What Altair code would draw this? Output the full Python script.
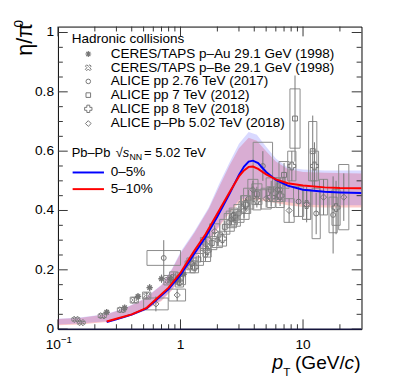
import altair as alt
import pandas as pd

FONT = "Liberation Sans"
GRAY = "#767676"
BOXGRAY = "#8a8a8a"

# ---------------- data ----------------
# CERES/TAPS p-Au 29.1 GeV (1998)
au_x = [0.25, 0.35, 0.45, 0.56, 0.70, 0.83, 0.95, 1.06]
au_y = [0.057, 0.072, 0.110, 0.140, 0.170, 0.168, 0.165, 0.185]
au_stat = [0.008, 0.008, 0.010, 0.012, 0.014, 0.015, 0.016, 0.018]

# CERES/TAPS p-Be 29.1 GeV (1998)
be_x = [0.14, 0.155, 0.23, 0.33, 0.42, 0.53, 0.79, 0.88]
be_y = [0.033, 0.022, 0.045, 0.065, 0.098, 0.113, 0.165, 0.175]
be_stat = [0.006, 0.005, 0.008, 0.008, 0.010, 0.012, 0.014, 0.016]
be_sys = [0.005, 0.004, 0.006, 0.007, 0.010, 0.012, 0.016, 0.018]
be_bw = [1.08, 1.08, 1.08, 1.08, 1.08, 1.08, 1.08, 1.08]

# ALICE pp 2.76 TeV (2017)
p276_x = [0.73, 1.2, 1.6, 2.0, 2.5, 3.0, 3.6, 4.7, 6.5, 9.2, 12.8, 17.6]
p276_y = [0.24, 0.21, 0.25, 0.30, 0.36, 0.39, 0.44, 0.55, 0.47, 0.43, 0.39, 0.385]
p276_stat = [0.06, 0.02, 0.02, 0.02, 0.02, 0.025, 0.03, 0.05, 0.04, 0.05, 0.07, 0.13]
p276_sys = [0.025, 0.02, 0.022, 0.025, 0.03, 0.03, 0.035, 0.08, 0.04, 0.05, 0.085, 0.06]
p276_bw = [1.37, 1.1, 1.1, 1.1, 1.1, 1.1, 1.1, 1.2, 1.1, 1.1, 1.08, 1.08]

# ALICE pp 7 TeV (2012)
p7_x = [1.0, 1.4, 1.8, 2.3, 2.8, 3.4, 4.2, 5.5, 7.0, 8.6, 12.0]
p7_y = [0.17, 0.235, 0.29, 0.345, 0.375, 0.42, 0.455, 0.47, 0.52, 0.71, 0.60]
p7_stat = [0.015, 0.015, 0.015, 0.02, 0.02, 0.02, 0.025, 0.03, 0.04, 0.145, 0.12]
p7_sys = [0.02, 0.02, 0.022, 0.025, 0.028, 0.03, 0.035, 0.04, 0.045, 0.10, 0.10]
p7_bw = [1.1, 1.1, 1.1, 1.1, 1.1, 1.1, 1.1, 1.1, 1.1, 1.1, 1.08]

# ALICE pp 8 TeV (2018)
p8_x = [0.98, 1.3, 1.65, 2.2, 2.7, 3.4, 4.2, 5.5, 6.5, 8.1, 10.7, 12.4, 18.6]
p8_y = [0.16, 0.21, 0.265, 0.305, 0.38, 0.42, 0.435, 0.445, 0.45, 0.55, 0.42, 0.55, 0.41]
p8_stat = [0.015, 0.015, 0.017, 0.02, 0.02, 0.022, 0.025, 0.03, 0.035, 0.05, 0.06, 0.08, 0.09]
p8_sys = [0.018, 0.02, 0.022, 0.025, 0.028, 0.03, 0.033, 0.035, 0.04, 0.05, 0.05, 0.05, 0.06]
p8_bw = [1.08, 1.08, 1.08, 1.08, 1.08, 1.08, 1.08, 1.08, 1.08, 1.08, 1.08, 1.08, 1.08]

# ALICE p-Pb 5.02 TeV (2018)
ppb_x = [0.63, 0.94, 1.24, 1.6, 1.9, 2.6, 3.3, 3.9, 5.0, 6.2, 7.7, 10.7, 14.7, 21.5]
ppb_y = [0.085, 0.115, 0.22, 0.287, 0.33, 0.37, 0.40, 0.47, 0.44, 0.47, 0.40, 0.42, 0.445, 0.445]
ppb_stat = [0.025, 0.02, 0.02, 0.02, 0.02, 0.02, 0.025, 0.03, 0.03, 0.035, 0.04, 0.05, 0.06, 0.08]
ppb_sys = [0.02, 0.02, 0.02, 0.022, 0.025, 0.028, 0.03, 0.035, 0.035, 0.04, 0.04, 0.05, 0.06, 0.11]
ppb_bw = [1.26, 1.17, 1.1, 1.1, 1.1, 1.1, 1.1, 1.1, 1.1, 1.1, 1.1, 1.08, 1.08, 1.1]

# Pb-Pb model curves
curve_x = [0.25, 0.3, 0.4, 0.53, 0.8, 1.0, 1.3, 1.6, 2.0, 2.5, 3.0, 3.3, 3.6, 3.9,
           4.3, 5.0, 6.0, 7.5, 10, 15, 20, 30]
red_y = [0.026, 0.035, 0.05, 0.072, 0.14, 0.19, 0.265, 0.32, 0.39, 0.46, 0.515, 0.535,
         0.547, 0.548, 0.54, 0.522, 0.505, 0.492, 0.484, 0.478, 0.476, 0.475]
blue_y = [0.024, 0.033, 0.049, 0.070, 0.135, 0.183, 0.255, 0.31, 0.38, 0.455, 0.52, 0.548,
          0.565, 0.568, 0.56, 0.53, 0.503, 0.484, 0.47, 0.463, 0.461, 0.459]

# uncertainty bands
band_x = [0.1, 0.15, 0.25, 0.35, 0.5, 0.7, 0.85, 1.0, 1.3, 1.7, 2.07, 2.5, 3.0, 3.6,
          4.2, 5.0, 6.0, 7.5, 10, 15, 30]
red_lo = [0.013, 0.016, 0.024, 0.038, 0.06, 0.095, 0.13, 0.17, 0.235, 0.295, 0.345, 0.39,
          0.425, 0.435, 0.435, 0.43, 0.425, 0.418, 0.412, 0.41, 0.41]
red_hi = [0.034, 0.038, 0.05, 0.07, 0.10, 0.148, 0.20, 0.255, 0.325, 0.405, 0.48, 0.55,
          0.61, 0.645, 0.635, 0.60, 0.565, 0.54, 0.53, 0.527, 0.525]
blue_lo = [0.016, 0.019, 0.027, 0.041, 0.063, 0.098, 0.133, 0.175, 0.24, 0.30, 0.35, 0.395,
           0.435, 0.445, 0.445, 0.44, 0.435, 0.428, 0.42, 0.418, 0.418]
blue_hi = [0.035, 0.039, 0.051, 0.071, 0.101, 0.15, 0.203, 0.26, 0.33, 0.41, 0.49, 0.56,
           0.625, 0.665, 0.655, 0.615, 0.575, 0.545, 0.538, 0.535, 0.535]

# axis ticks and tick labels
y_major = [0, 0.2, 0.4, 0.6, 0.8, 1.0]
y_labels = ["0", "0.2", "0.4", "0.6", "0.8", "1"]
y_minor = [0.05, 0.1, 0.15, 0.25, 0.3, 0.35, 0.45, 0.5, 0.55, 0.65, 0.7, 0.75,
           0.85, 0.9, 0.95]
x_major = [0.1, 1, 10]
x_labels = ["10", "1", "10"]
x_minor = [0.2, 0.3, 0.4, 0.5, 0.6, 0.7, 0.8, 0.9, 2, 3, 4, 5, 6, 7, 8, 9, 20]

legend_labels = ["CERES/TAPS p\u2013Au 29.1 GeV (1998)",
                 "CERES/TAPS p\u2013Be 29.1 GeV (1998)",
                 "ALICE pp 2.76 TeV (2017)",
                 "ALICE pp 7 TeV (2012)",
                 "ALICE pp 8 TeV (2018)",
                 "ALICE p\u2013Pb 5.02 TeV (2018)"]

# ---------------- chart ----------------
W, H = 310, 309
LF = 13.8  # legend font size
xs = alt.Scale(type="log", domain=[0.1, 30], nice=False)
ys = alt.Scale(domain=[0, 1.02], nice=False, zero=False)

ASTERISK = "M-1,0L1,0M0,-1L0,1M-0.7,-0.7L0.7,0.7M-0.7,0.7L0.7,-0.7"
XCROSS = ("M0.495,-0.919L0.919,-0.495L0.424,0L0.919,0.495L0.495,0.919L0,0.424"
          "L-0.495,0.919L-0.919,0.495L-0.424,0L-0.919,-0.495L-0.495,-0.919L0,-0.424Z")

dummy = pd.DataFrame({"a": [0]})
layers = []

band_df = pd.DataFrame({"x": band_x, "rlo": red_lo, "rhi": red_hi,
                        "blo": blue_lo, "bhi": blue_hi})
layers.append(
    alt.Chart(band_df).mark_area(color="#ff2020", opacity=0.24, clip=True).encode(
        x=alt.X("x:Q", scale=xs, axis=None),
        y=alt.Y("rlo:Q", scale=ys, axis=None),
        y2="rhi:Q",
    )
)
layers.append(
    alt.Chart(band_df).mark_area(color="#2020ff", opacity=0.17, clip=True).encode(
        x=alt.X("x:Q", scale=xs, axis=None),
        y=alt.Y("blo:Q", scale=ys, axis=None),
        y2="bhi:Q",
    )
)


def series(x, y, stat, shape, size, sys=None, bw=None, stroke=1.0):
    d = {"x": x, "y": y,
         "ylo": [a - b for a, b in zip(y, stat)],
         "yhi": [a + b for a, b in zip(y, stat)]}
    out = []
    if sys is not None:
        d["xlo"] = [a / b for a, b in zip(x, bw)]
        d["xhi"] = [a * b for a, b in zip(x, bw)]
        d["slo"] = [a - b for a, b in zip(y, sys)]
        d["shi"] = [a + b for a, b in zip(y, sys)]
    df = pd.DataFrame(d)
    if sys is not None:
        out.append(alt.Chart(df).mark_rect(fillOpacity=0, stroke=BOXGRAY, strokeWidth=1,
                                           clip=True).encode(
            x=alt.X("xlo:Q", scale=xs, axis=None), x2="xhi:Q",
            y=alt.Y("slo:Q", scale=ys, axis=None), y2="shi:Q"))
    out.append(alt.Chart(df).mark_rule(color=GRAY, strokeWidth=1, clip=True).encode(
        x=alt.X("x:Q", scale=xs, axis=None),
        y=alt.Y("ylo:Q", scale=ys, axis=None), y2="yhi:Q"))
    out.append(alt.Chart(df).mark_point(shape=shape, filled=False, size=size, color=GRAY,
                                        strokeWidth=stroke, opacity=1, clip=True).encode(
        x=alt.X("x:Q", scale=xs, axis=None),
        y=alt.Y("y:Q", scale=ys, axis=None)))
    return out


layers += series(be_x, be_y, be_stat, XCROSS, 49, be_sys, be_bw)
layers += series(p276_x, p276_y, p276_stat, "circle", 25, p276_sys, p276_bw)
layers += series(p7_x, p7_y, p7_stat, "square", 25, p7_sys, p7_bw)
layers += series(p8_x, p8_y, p8_stat, "cross", 64, p8_sys, p8_bw)
layers += series(ppb_x, ppb_y, ppb_stat, "diamond", 40, ppb_sys, ppb_bw)
layers += series(au_x, au_y, au_stat, ASTERISK, 42, stroke=1.4)

curve_df = pd.DataFrame({"x": curve_x, "red": red_y, "blue": blue_y})
layers.append(alt.Chart(curve_df).mark_line(color="#0000ff", strokeWidth=2, clip=True).encode(
    x=alt.X("x:Q", scale=xs, axis=None), y=alt.Y("blue:Q", scale=ys, axis=None)))
layers.append(alt.Chart(curve_df).mark_line(color="#ff0000", strokeWidth=2, clip=True).encode(
    x=alt.X("x:Q", scale=xs, axis=None), y=alt.Y("red:Q", scale=ys, axis=None)))


# ---------------- text helpers ----------------
def text(s, x, y, size=LF, style="normal", align="left", baseline="middle", angle=0):
    kw = dict(text=s, fontSize=size, fontStyle=style, align=align,
              baseline=baseline, font=FONT, color="black")
    if angle:
        kw["angle"] = angle
    return alt.Chart(dummy).mark_text(**kw).encode(x=alt.value(x), y=alt.value(y))


# ---------------- legend (drawn inside the frame) ----------------
layers.append(text("Hadronic collisions", 14, 13))
row_y = [28, 42, 56, 70, 84, 99]
row_shape = [ASTERISK, XCROSS, "circle", "square", "cross", "diamond"]
row_size = [36, 42, 22, 22, 56, 34]
for lab, yy, shp, sz in zip(legend_labels, row_y, row_shape, row_size):
    layers.append(text(lab, 54, yy))
    layers.append(alt.Chart(dummy).mark_point(shape=shp, filled=False, size=sz, color=GRAY,
                                              strokeWidth=1.2 if shp == ASTERISK else 1,
                                              opacity=1).encode(
        x=alt.value(31), y=alt.value(yy)))

layers.append(text("Pb\u2013Pb", 14, 129, size=13.2))
layers.append(text("\u221a", 59, 129, size=13.2))
layers.append(text("s", 66.3, 129, size=13.2, style="italic"))
layers.append(text("NN", 73, 133, size=9))
layers.append(text("= 5.02 TeV", 88, 129, size=13.2))
layers.append(alt.Chart(dummy).mark_rule(color="#0000ff", strokeWidth=2).encode(
    x=alt.value(15), x2=alt.value(47), y=alt.value(149)))
layers.append(alt.Chart(dummy).mark_rule(color="#ff0000", strokeWidth=2).encode(
    x=alt.value(15), x2=alt.value(47), y=alt.value(166)))
layers.append(text("0\u20135%", 54, 149))
layers.append(text("5\u201310%", 54, 166))

# ---------------- axis titles ----------------
layers.append(text("p", 230, 350, size=20, style="italic", align="right", baseline="alphabetic"))
layers.append(text("T", 230, 357, size=12, baseline="alphabetic"))
layers.append(text("(GeV/", 293, 350, size=19.5, align="right", baseline="alphabetic"))
layers.append(text("c", 302.5, 350, size=19.5, style="italic", align="right",
                   baseline="alphabetic"))
layers.append(text(")", 309, 350, size=19.5, align="right", baseline="alphabetic"))

layers.append(text("\u03b7/\u03c0", -33, 13, size=22, align="center",
                   baseline="middle", angle=270))
layers.append(text("0", -40, -3, size=14, align="center", baseline="middle", angle=270))

# ---------------- tick labels ----------------
ylab_df = pd.DataFrame({"v": y_major, "lab": y_labels})
layers.append(alt.Chart(ylab_df).mark_text(font=FONT, fontSize=14, align="right",
                                           baseline="middle", color="black").encode(
    y=alt.Y("v:Q", scale=ys, axis=None), x=alt.value(-4), text="lab:N"))
xlab_df = pd.DataFrame({"v": x_major[1:], "lab": x_labels[1:]})
layers.append(alt.Chart(xlab_df).mark_text(font=FONT, fontSize=14, align="center",
                                           baseline="top", color="black").encode(
    x=alt.X("v:Q", scale=xs, axis=None), y=alt.value(H + 9), text="lab:N"))
xlab0_df = pd.DataFrame({"v": x_major[:1], "lab": x_labels[:1], "sup": ["\u22121"]})
layers.append(alt.Chart(xlab0_df).mark_text(font=FONT, fontSize=14, align="right",
                                            baseline="top", color="black", dx=3).encode(
    x=alt.X("v:Q", scale=xs, axis=None), y=alt.value(H + 9), text="lab:N"))
layers.append(alt.Chart(xlab0_df).mark_text(font=FONT, fontSize=10, align="left",
                                            baseline="top", color="black", dx=3).encode(
    x=alt.X("v:Q", scale=xs, axis=None), y=alt.value(H + 6), text="sup:N"))

# ---------------- inward ticks on all four sides ----------------
ym_df = pd.DataFrame({"v": y_major})
yn_df = pd.DataFrame({"v": y_minor})
xm_df = pd.DataFrame({"v": x_major})
xn_df = pd.DataFrame({"v": x_minor})
TK = "#333333"
for df_, ln in ((ym_df, 10), (yn_df, 5)):
    layers.append(alt.Chart(df_).mark_rule(color=TK, strokeWidth=1).encode(
        y=alt.Y("v:Q", scale=ys, axis=None), x=alt.value(0), x2=alt.value(ln)))
    layers.append(alt.Chart(df_).mark_rule(color=TK, strokeWidth=1).encode(
        y=alt.Y("v:Q", scale=ys, axis=None), x=alt.value(W), x2=alt.value(W - ln)))
for df_, ln in ((xm_df, 10), (xn_df, 5)):
    layers.append(alt.Chart(df_).mark_rule(color=TK, strokeWidth=1).encode(
        x=alt.X("v:Q", scale=xs, axis=None), y=alt.value(H), y2=alt.value(H - ln)))
    layers.append(alt.Chart(df_).mark_rule(color=TK, strokeWidth=1).encode(
        x=alt.X("v:Q", scale=xs, axis=None), y=alt.value(0), y2=alt.value(ln)))

layers.append(alt.Chart(dummy).mark_rule(color="#14143c", strokeWidth=1.5).encode(
    x=alt.value(0), x2=alt.value(W), y=alt.value(H)))

chart = alt.layer(*layers).properties(
    width=W, height=H,
    autosize=alt.AutoSizeParams(type="none"),
    padding={"left": 51, "top": 15, "right": 24, "bottom": 50},
    background="white",
).configure(font=FONT).configure_view(stroke="black", strokeWidth=1)

chart.save("out.html", embed_options={"renderer": "svg", "actions": False})
